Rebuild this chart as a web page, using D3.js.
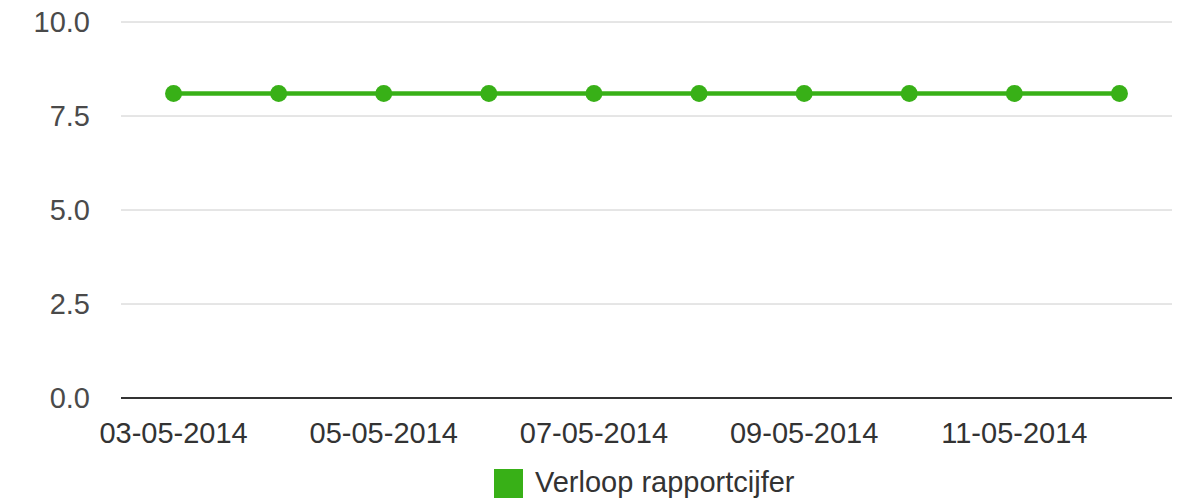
<!DOCTYPE html>
<html>
<head>
<meta charset="utf-8">
<script src="https://cdn.jsdelivr.net/npm/d3@7"></script>
<style>
  body { margin: 0; background: #fff; }
  text { font-family: 'Liberation Sans', Arial, sans-serif; }
</style>
</head>
<body>
<div id="chart"></div>
<script>
// data
var dates = ['03-05-2014', '04-05-2014', '05-05-2014', '06-05-2014', '07-05-2014',
             '08-05-2014', '09-05-2014', '10-05-2014', '11-05-2014', '12-05-2014'];
var cijfers = [8.1, 8.1, 8.1, 8.1, 8.1, 8.1, 8.1, 8.1, 8.1, 8.1];
var yTicks = [0, 2.5, 5, 7.5, 10];
var seriesName = 'Verloop rapportcijfer';

var green = '#38b017';
var fontSize = 29;

var margin = { top: 22, left: 121, right: 23, bottom: 105 },
    W = 1195, H = 503,
    width = W - margin.left - margin.right,
    height = H - margin.top - margin.bottom;

var svg = d3.select('#chart').append('svg')
    .attr('width', W)
    .attr('height', H)
    .append('g')
    .attr('transform', 'translate(' + margin.left + ',' + margin.top + ')');

var xScale = d3.scaleBand().domain(dates).range([0, width]);
var yScale = d3.scaleLinear().domain([0, 10]).range([height, 0]);

// gridlines
svg.selectAll('.grid')
    .data(yTicks.filter(function(t) { return t > 0; }))
    .enter().append('line')
    .attr('x1', 0).attr('x2', width)
    .attr('y1', function(d) { return yScale(d); })
    .attr('y2', function(d) { return yScale(d); })
    .attr('stroke', '#cccccc')
    .attr('stroke-width', 1);

// y labels
var yAxis = svg.append('g')
    .call(d3.axisLeft(yScale).tickValues(yTicks).tickFormat(d3.format('.1f')).tickSize(0).tickPadding(31));
yAxis.select('.domain').remove();
yAxis.selectAll('text')
    .attr('font-size', fontSize)
    .attr('fill', '#4a4a4a')
    .style('font-family', "'Liberation Sans', Arial, sans-serif");

// baseline
svg.append('line')
    .attr('x1', 0).attr('x2', width)
    .attr('y1', yScale(0)).attr('y2', yScale(0))
    .attr('stroke', '#333')
    .attr('stroke-width', 2);

// x labels (every other date)
var xAxis = svg.append('g')
    .attr('transform', 'translate(0,' + height + ')')
    .call(d3.axisBottom(xScale)
        .tickValues(dates.filter(function(d, i) { return i % 2 === 0; }))
        .tickSize(0).tickPadding(45));
xAxis.select('.domain').remove();
xAxis.selectAll('text')
    .attr('dy', '0')
    .attr('font-size', fontSize)
    .attr('fill', '#333')
    .style('font-family', "'Liberation Sans', Arial, sans-serif");

// line
var line = d3.line()
    .x(function(d, i) { return xScale(dates[i]) + xScale.bandwidth() / 2; })
    .y(function(d) { return yScale(d); });

svg.append('path')
    .datum(cijfers)
    .attr('d', line)
    .attr('fill', 'none')
    .attr('stroke', green)
    .attr('stroke-width', 4.5);

svg.selectAll('.dot')
    .data(cijfers)
    .enter().append('circle')
    .attr('cx', function(d, i) { return xScale(dates[i]) + xScale.bandwidth() / 2; })
    .attr('cy', function(d) { return yScale(d); })
    .attr('r', 8.5)
    .attr('fill', green);

// legend
var legend = svg.append('g')
    .attr('transform', 'translate(' + (494 - margin.left) + ',' + (469 - margin.top) + ')');
legend.append('rect')
    .attr('width', 29).attr('height', 29)
    .attr('fill', green);
legend.append('text')
    .attr('x', 41).attr('y', 23)
    .attr('font-size', fontSize)
    .attr('fill', '#333')
    .text(seriesName);
</script>
</body>
</html>
